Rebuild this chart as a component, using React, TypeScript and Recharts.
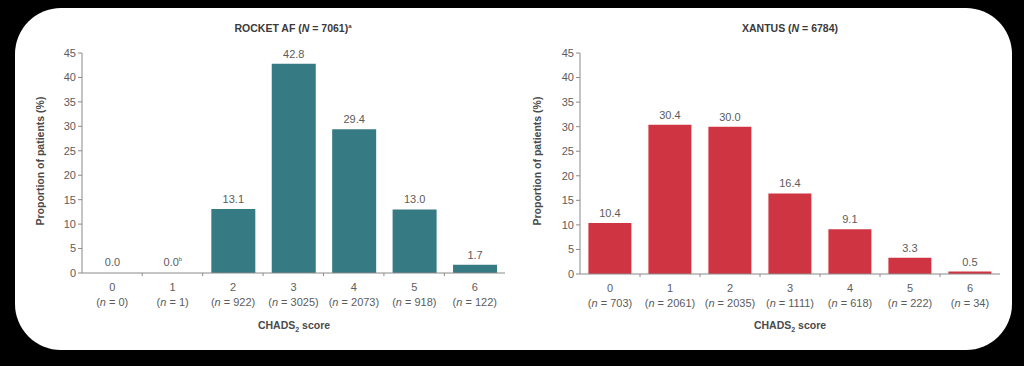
import { BarChart, Bar, XAxis, YAxis, LabelList, Cell } from 'recharts'

// ─── data ────────────────────────────────────────────────────────────────────

const scores = ['0', '1', '2', '3', '4', '5', '6']
const rocketPct = [0.0, 0.0, 13.1, 42.8, 29.4, 13.0, 1.7]
const rocketN = [0, 1, 922, 3025, 2073, 918, 122]
const xantusPct = [10.4, 30.4, 30.0, 16.4, 9.1, 3.3, 0.5]
const xantusN = [703, 2061, 2035, 1111, 618, 222, 34]
const yTicks = [0, 5, 10, 15, 20, 25, 30, 35, 40, 45]
const rocketNotes = ['', 'b', '', '', '', '', '']

const FONT = '"Liberation Sans", Arial, sans-serif'
const AXIS = '#8a8a8a'
const TEXT = '#5c5c5c'

interface Row { score: string; pct: number; n: number; note: string }

function buildRows(pct: number[], n: number[], notes?: string[]): Row[] {
  return scores.map((s, i) => ({ score: s, pct: pct[i], n: n[i], note: notes ? notes[i] : '' }))
}

function ScoreTick({ x, y, payload, index, rows }: any) {
  const row: Row = rows[payload.index ?? index]
  return (
    <g>
      {index < scores.length - 1 && (
        <line x1={x + 30} x2={x + 30} y1={y} y2={y + 3} stroke={AXIS} strokeWidth={1} />
      )}
      <text x={x} y={y + 18} textAnchor="middle" fontSize={11} fill={TEXT} fontFamily={FONT}>
        {row.score}
      </text>
      <text x={x} y={y + 33} textAnchor="middle" fontSize={11} fill={TEXT} fontFamily={FONT}>
        (<tspan fontStyle="italic">n</tspan> = {row.n})
      </text>
    </g>
  )
}

function ValueLabel({ x, y, width, value, index, rows }: any) {
  const note = rows[index] ? rows[index].note : ''
  return (
    <text x={x + width / 2} y={y - 6} textAnchor="middle" fontSize={11} fill={TEXT} fontFamily={FONT}>
      {Number(value).toFixed(1)}
      {note && <tspan fontSize={6} dy={-5}>{note}</tspan>}
    </text>
  )
}

function Panel({ rows, color, left, margin }: { rows: Row[]; color: string; left: number; margin: any }) {
  return (
    <div style={{ position: 'absolute', left, top: 0 }}>
      <BarChart width={512} height={366} data={rows} margin={margin} barCategoryGap="14%">
        <XAxis
          dataKey="score"
          axisLine={{ stroke: AXIS }}
          tickLine={false}
          tickSize={0}
          tickMargin={0}
          height={70}
          interval={0}
          tick={(p: any) => <ScoreTick {...p} rows={rows} />}
        />
        <YAxis
          domain={[0, 45]}
          ticks={yTicks}
          interval={0}
          width={30}
          axisLine={{ stroke: AXIS }}
          tickLine={{ stroke: AXIS }}
          tickSize={4}
          tickMargin={2}
          tick={{ fontSize: 11, fill: TEXT, fontFamily: FONT }}
        />
        <Bar dataKey="pct" fill={color} minPointSize={1} isAnimationActive={false}>
          {rows.map((r) => (
            <Cell key={r.score} fill={r.pct === 0 ? 'transparent' : color} />
          ))}
          <LabelList dataKey="pct" content={(p: any) => <ValueLabel {...p} rows={rows} />} />
        </Bar>
      </BarChart>
    </div>
  )
}

const titleStyle: React.CSSProperties = {
  position: 'absolute', top: 22, width: 300, textAlign: 'center',
  fontFamily: FONT, fontWeight: 700, fontSize: 10.5, color: '#3a3a3a',
}
const yLabelStyle: React.CSSProperties = {
  position: 'absolute', top: 155, width: 200, textAlign: 'center',
  fontFamily: FONT, fontWeight: 700, fontSize: 10.5, color: '#4a4a4a',
  transform: 'rotate(-90deg)',
}
const xLabelStyle: React.CSSProperties = {
  position: 'absolute', top: 319, width: 200, textAlign: 'center',
  fontFamily: FONT, fontWeight: 700, fontSize: 10.5, color: '#4a4a4a',
}

export default function App() {
  const rocket = buildRows(rocketPct, rocketN, rocketNotes)
  const xantus = buildRows(xantusPct, xantusN)
  return (
    <div style={{ position: 'absolute', left: 0, top: 0, width: 1024, height: 366, background: '#000', overflow: 'hidden' }}>
      <div style={{ position: 'absolute', left: 15, top: 8, width: 997, height: 342, background: '#fff', borderRadius: 46 }} />

      <Panel rows={rocket} color="#367b83" left={0} margin={{ top: 53, right: 7, bottom: 23, left: 52 }} />
      <Panel rows={xantus} color="#cf3442" left={512} margin={{ top: 53, right: 24, bottom: 22, left: 38 }} />

      <div style={{ ...titleStyle, left: 143 }}>
        ROCKET AF (<i>N</i> = 7061)<sup style={{ fontSize: 6 }}>a</sup>
      </div>
      <div style={{ ...titleStyle, left: 640 }}>
        XANTUS (<i>N</i> = 6784)
      </div>

      <div style={{ ...yLabelStyle, left: -60 }}>Proportion of patients (%)</div>
      <div style={{ ...yLabelStyle, left: 437 }}>Proportion of patients (%)</div>

      <div style={{ ...xLabelStyle, left: 194 }}>
        CHADS<sub style={{ fontSize: 7 }}>2</sub> score
      </div>
      <div style={{ ...xLabelStyle, left: 690 }}>
        CHADS<sub style={{ fontSize: 7 }}>2</sub> score
      </div>
    </div>
  )
}
